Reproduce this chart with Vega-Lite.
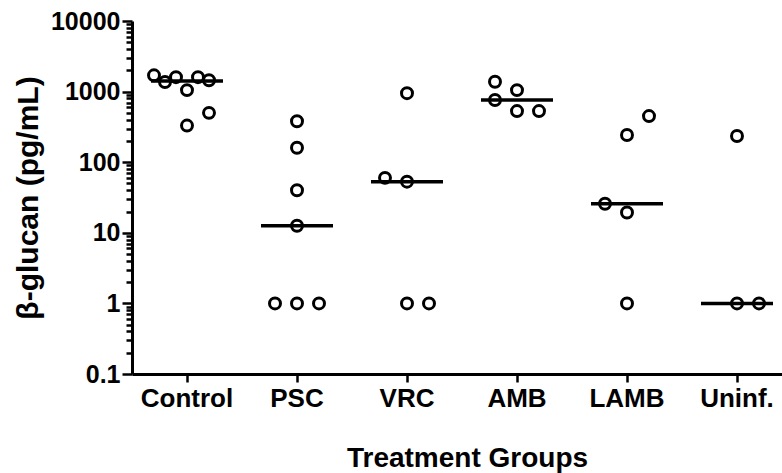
{
  "$schema": "https://vega.github.io/schema/vega-lite/v6.json",
  "autosize": {"type": "none"},
  "padding": {"left": 132, "top": 21, "right": 0, "bottom": 99},
  "width": 650,
  "height": 353,
  "background": "white",
  "config": {
    "view": {"stroke": null},
    "font": "Liberation Sans",
    "axis": {
      "grid": false,
      "domainColor": "black",
      "domainWidth": 3,
      "tickColor": "black",
      "tickWidth": 2.5,
      "labelColor": "black",
      "labelFont": "Liberation Sans",
      "labelFontWeight": "bold",
      "labelFontSize": 25,
      "titleColor": "black",
      "titleFont": "Liberation Sans",
      "titleFontWeight": "bold",
      "titleFontSize": 28
    }
  },
  "data": {
    "values": [
      {"group": "Control", "value": 1700, "col": -3},
      {"group": "Control", "value": 1370, "col": -2},
      {"group": "Control", "value": 1600, "col": -1},
      {"group": "Control", "value": 1050, "col": 0},
      {"group": "Control", "value": 1600, "col": 1},
      {"group": "Control", "value": 1450, "col": 2},
      {"group": "Control", "value": 330, "col": 0},
      {"group": "Control", "value": 500, "col": 2},
      {"group": "PSC", "value": 380, "col": 0},
      {"group": "PSC", "value": 160, "col": 0},
      {"group": "PSC", "value": 40, "col": 0},
      {"group": "PSC", "value": 12.6, "col": 0},
      {"group": "PSC", "value": 1, "col": -2},
      {"group": "PSC", "value": 1, "col": 0},
      {"group": "PSC", "value": 1, "col": 2},
      {"group": "VRC", "value": 950, "col": 0},
      {"group": "VRC", "value": 60, "col": -2},
      {"group": "VRC", "value": 53, "col": 0},
      {"group": "VRC", "value": 1, "col": 0},
      {"group": "VRC", "value": 1, "col": 2},
      {"group": "AMB", "value": 1380, "col": -2},
      {"group": "AMB", "value": 760, "col": -2},
      {"group": "AMB", "value": 1050, "col": 0},
      {"group": "AMB", "value": 530, "col": 0},
      {"group": "AMB", "value": 530, "col": 2},
      {"group": "LAMB", "value": 450, "col": 2},
      {"group": "LAMB", "value": 243, "col": 0},
      {"group": "LAMB", "value": 25.8, "col": -2},
      {"group": "LAMB", "value": 19.4, "col": 0},
      {"group": "LAMB", "value": 1, "col": 0},
      {"group": "Uninf.", "value": 235, "col": 0},
      {"group": "Uninf.", "value": 1, "col": 0},
      {"group": "Uninf.", "value": 1, "col": 2}
    ]
  },
  "encoding": {
    "x": {
      "field": "group",
      "type": "nominal",
      "sort": ["Control", "PSC", "VRC", "AMB", "LAMB", "Uninf."],
      "scale": {"type": "band", "range": [0, 660], "paddingInner": 0, "paddingOuter": 0},
      "title": "Treatment Groups",
      "axis": {"labelAngle": 0, "tickSize": 8, "labelFontSize": 26, "labelPadding": 3, "titlePadding": 33, "titleX": 335}
    },
    "y": {
      "field": "value",
      "type": "quantitative",
      "scale": {"type": "log", "domain": [0.1, 10000], "nice": false},
      "title": "β-glucan (pg/mL)",
      "axis": {
        "values": [0.1, 0.2, 0.3, 0.4, 0.5, 0.6, 0.7, 0.8, 0.9,
                   1, 2, 3, 4, 5, 6, 7, 8, 9,
                   10, 20, 30, 40, 50, 60, 70, 80, 90,
                   100, 200, 300, 400, 500, 600, 700, 800, 900,
                   1000, 2000, 3000, 4000, 5000, 6000, 7000, 8000, 9000, 10000],
        "format": "~g",
        "labelOverlap": false,
        "labelFlush": false,
        "labelPadding": 2,
        "titlePadding": 7,
        "titleFontSize": 30,
        "labelExpr": "abs(log(datum.value)/LN10 - round(log(datum.value)/LN10)) < 0.001 ? datum.label : ''",
        "tickSize": {"condition": {"test": "abs(log(datum.value)/LN10 - round(log(datum.value)/LN10)) < 0.001", "value": 10}, "value": 6}
      }
    }
  },
  "layer": [
    {
      "mark": {"type": "point", "shape": "circle", "filled": false, "color": "black", "strokeWidth": 3, "size": 120, "opacity": 1},
      "encoding": {
        "xOffset": {
          "field": "col",
          "type": "ordinal",
          "scale": {"domain": [-5, -4, -3, -2, -1, 0, 1, 2, 3, 4, 5], "paddingInner": 0, "paddingOuter": 0}
        }
      }
    },
    {
      "mark": {"type": "tick", "color": "black", "size": 72, "thickness": 3.5, "opacity": 1},
      "encoding": {
        "y": {"field": "value", "type": "quantitative", "aggregate": "median"}
      }
    }
  ]
}
